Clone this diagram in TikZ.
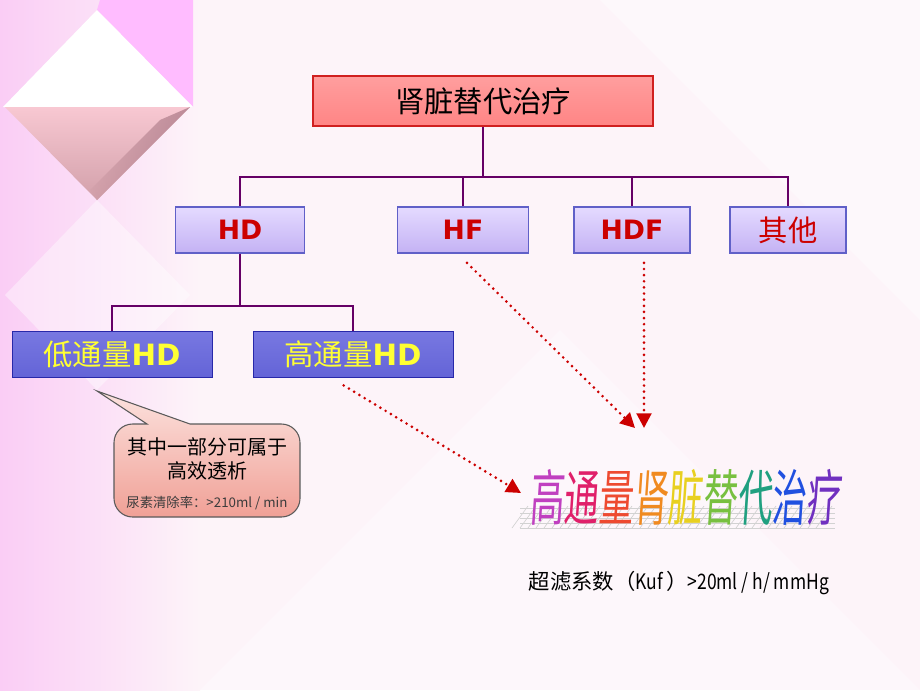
\documentclass[tikz,border=0pt]{standalone}
\usepackage{fontspec}
\setmainfont{DejaVu Sans}
\newfontfamily\cjk{Noto Sans CJK SC}
\newfontfamily\cjkslant{Noto Sans CJK SC}[FakeSlant=0.12]
\newfontfamily\latn{Liberation Sans}
\usetikzlibrary{arrows.meta}
\definecolor{bg}{HTML}{FDF4F9}
\definecolor{bgleft}{RGB}{250,205,245}
\definecolor{pinkmag}{RGB}{255,188,255}
\definecolor{rose1}{RGB}{248,200,210}
\definecolor{rose2}{RGB}{210,160,170}
\definecolor{rose3}{RGB}{150,100,115}
\definecolor{connc}{HTML}{660066}
\definecolor{topbd}{HTML}{D02020}
\definecolor{lavbd}{HTML}{6060C8}
\definecolor{lavtop}{RGB}{228,218,255}
\definecolor{lavmid}{RGB}{238,232,255}
\definecolor{lavbot}{RGB}{196,178,244}
\definecolor{bluebd}{RGB}{40,40,170}
\definecolor{bluetop}{RGB}{120,120,225}
\definecolor{bluemid}{RGB}{45,45,195}
\definecolor{bluebot}{RGB}{100,100,215}
\definecolor{calbd}{RGB}{90,90,90}
\definecolor{caltop}{RGB}{252,226,222}
\definecolor{calbot}{RGB}{240,160,150}
\definecolor{caltext}{RGB}{60,60,60}
\definecolor{darkred}{HTML}{CC0000}
\definecolor{yel}{HTML}{FFFF33}
\definecolor{arr}{HTML}{CC0000}
\definecolor{w1}{HTML}{C040C0}
\definecolor{w2}{HTML}{E0206A}
\definecolor{w3}{HTML}{EE4A30}
\definecolor{w4}{HTML}{F08A20}
\definecolor{w5}{HTML}{E8D020}
\definecolor{w6}{HTML}{78C040}
\definecolor{w7}{HTML}{20A080}
\definecolor{w8}{HTML}{2050E0}
\definecolor{w9}{HTML}{7030C0}
\tikzset{
  topbox/.style={draw=topbd, line width=1.6pt, top color=red!38, middle color=red!6, bottom color=red!48,
    minimum width=255pt, minimum height=37.5pt, inner sep=0pt, font=\cjk\fontsize{22pt}{24pt}\selectfont},
  lavbox/.style={draw=lavbd, line width=0.8pt, top color=lavtop, middle color=lavmid,
    bottom color=lavbot, minimum height=34.5pt, inner sep=0pt, text=darkred},
  bluebox/.style={draw=bluebd, line width=0.6pt, top color=bluetop,
    middle color=bluemid, bottom color=bluebot,
    minimum width=150pt, minimum height=34.5pt, inner sep=0pt, text=yel, font=\cjk\fontsize{22pt}{24pt}\selectfont},
  conn/.style={draw=connc, line width=2.2pt},
  dotarrow/.style={draw=arr, line width=2.2pt, line cap=round, dash pattern=on 0pt off 4.6pt,
    -{Triangle[length=11pt,width=11pt,fill=arr,sharp]}},
  bold20/.style={font=\bfseries\fontsize{20pt}{22pt}\selectfont},
  shadowline/.style={draw=gray!35, line width=0.5pt},
}
\begin{document}
\begin{tikzpicture}[x=0.75pt,y=-0.75pt]
% background
\fill[bg] (0,0) rectangle (920,690);
\useasboundingbox (0,0) rectangle (920,690);
\shade[left color=bgleft, right color=bg] (0,0) rectangle (200,690);
\fill[white, opacity=0.45] (600,0) -- (920,0) -- (920,320) -- cycle;
\fill[white, opacity=0.35] (200,690) -- (560,330) -- (920,690) -- cycle;
\fill[pinkmag] (100,0) -- (193,0) -- (193,107) -- (97,10) -- cycle;
\fill[white] (97,10) -- (3,107) -- (193,107) -- cycle;
\shade[top color=rose1, bottom color=rose2] (5,107) -- (190,107) -- (97,200) -- cycle;
\shade[left color=rose2, right color=rose3, opacity=0.6] (160,120) -- (190,107) -- (97,200) -- (90,190) -- cycle;
\fill[white, opacity=0.4] (97,200) -- (5,295) -- (97,390) -- (190,295) -- cycle;

% nodes
\node[topbox] (top) at (483,101) {肾脏替代治疗};
\node[lavbox, minimum width=96.75pt, bold20] (hd) at (240,230) {HD};
\node[lavbox, minimum width=98.25pt, bold20] (hf) at (463,230) {HF};
\node[lavbox, minimum width=87pt, bold20] (hdf) at (632,230) {HDF};
\node[lavbox, minimum width=87pt, font=\cjk\fontsize{22pt}{24pt}\selectfont] (other) at (788,230) {其他};
\node[bluebox] (low) at (112,354) {低通量{\fontspec{DejaVu Sans}\bfseries HD}};
\node[bluebox] (high) at (353,354) {高通量{\fontspec{DejaVu Sans}\bfseries HD}};

% connectors
\coordinate (j1) at (483,177);
\coordinate (j2) at (240,306);
\draw[conn] (top.south) -- (j1);
\draw[conn] (hd.north) |- (other.north |- j1) -- (other.north);
\draw[conn] (hf.north) -- (hf.north |- j1);
\draw[conn] (hdf.north) -- (hdf.north |- j1);
\draw[conn] (hd.south) -- (j2);
\draw[conn] (low.north) |- (j2) -| (high.north);

% callout
\coordinate (tip) at (97,391);
\draw[draw=calbd, line width=0.8pt, top color=caltop, bottom color=calbot]
  (190,424) [rounded corners=14pt] -- (300,424) -- (300,517) -- (114,517) -- (114,424) [sharp corners] -- (147,424) -- (tip) -- cycle;
\node[font=\cjk\fontsize{15pt}{17pt}\selectfont] (c1) at (207,447) {其中一部分可属于};
\node[font=\cjk\fontsize{15pt}{17pt}\selectfont] (c2) at (207,471) {高效透析};
\node[font=\cjk\fontsize{10pt}{12pt}\selectfont, text=caltext] (c3) at (207,503) {尿素清除率：>210ml / min};

% word art shadow (skewed grey grid)
\foreach \y in {508,513,518,523,528}
  \draw[shadowline] (520,\y) -- (835,\y);
\foreach \i in {0,...,38}
  \draw[shadowline] (512+8*\i,528) -- (528+8*\i,506);
% word art
\node[font=\cjkslant\fontsize{26pt}{28pt}\selectfont, inner sep=0pt] (wa) at (685,497) {\scalebox{1}[1.75]{\color{w1}高\color{w2}通\color{w3}量\color{w4}肾\color{w5}脏\color{w6}替\color{w7}代\color{w8}治\color{w9}疗}};

\node[font=\cjk\fontsize{16pt}{18pt}\selectfont, anchor=west] (kuf) at (524,583) {超滤系数（\scalebox{0.82}[1]{Kuf}\,）\scalebox{0.82}[1]{>20ml / h/ mmHg}};

% arrows
\coordinate (t1) at (521,493);
\coordinate (t2) at (635,428);
\coordinate (t3) at (644,428);
\draw[dotarrow] ([xshift=-7pt,yshift=-6pt]high.south) -- (t1);
\draw[dotarrow] ([xshift=3pt,yshift=-7pt]hf.south) -- (t2);
\draw[dotarrow] ([xshift=9pt,yshift=-7pt]hdf.south) -- (t3);
\end{tikzpicture}
\end{document}
